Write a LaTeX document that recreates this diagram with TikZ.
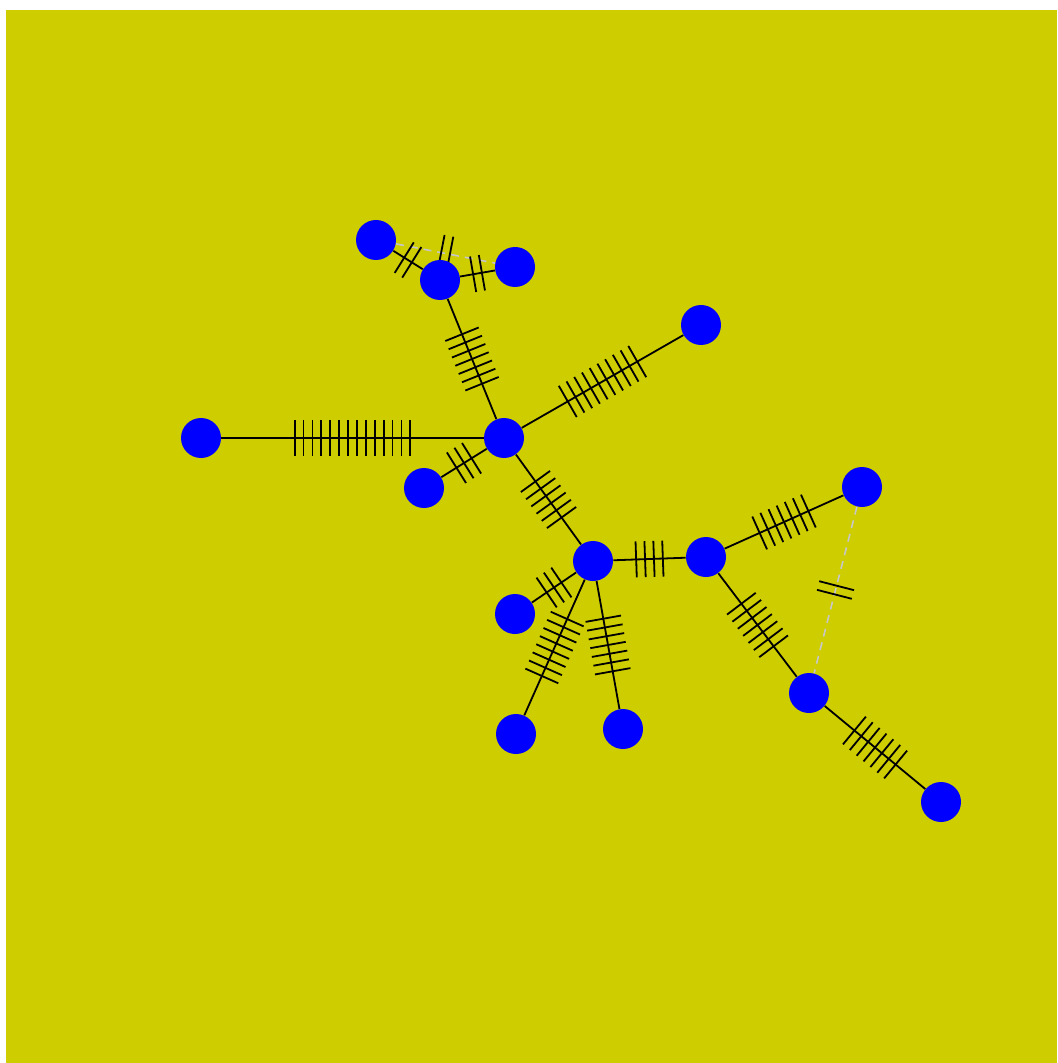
\documentclass[tikz,border=0pt]{standalone}
\usetikzlibrary{calc}
\definecolor{bgyellow}{RGB}{205,205,0}
\definecolor{dashgray}{RGB}{200,200,200}
\pgfdeclarelayer{bg}
\pgfdeclarelayer{edges}
\pgfsetlayers{bg,edges,main}
\tikzset{
  vtx/.style={circle,fill=blue,draw=none,minimum size=20pt,inner sep=0pt},
  edge/.style={draw=black,line width=0.9pt},
  dedge/.style={draw=dashgray,line width=0.8pt,dash pattern=on 4pt off 3pt},
  tick/.style={draw=black,line width=0.9pt}
}
\newcommand{\tickmarks}[3]{%
  \coordinate (tmid) at ($(#1)!0.5!(#2)$);
  \foreach \i in {1,...,#3} {
    \pgfmathsetmacro{\off}{(\i-(#3+1)/2)*4.45}
    \coordinate (tc) at ($(tmid)!\off pt!(#2)$);
    \draw[tick] ($(tc)!9pt!90:(#2)$) -- ($(tc)!9pt!-90:(#2)$);
  }%
}
\newcommand{\solidedge}[3]{\draw[edge] (#1) -- (#2);\tickmarks{#1}{#2}{#3}}
\newcommand{\dashedge}[3]{\draw[dedge] (#1) -- (#2);\tickmarks{#1}{#2}{#3}}
\begin{document}
\begin{tikzpicture}[x=0.5pt,y=-0.5pt]
\useasboundingbox (0,0) rectangle (1057,1063);
\begin{pgfonlayer}{bg}
\fill[white] (0,0) rectangle (1057,1063);
\fill[bgyellow] (6,10) rectangle (1057,1063);
\end{pgfonlayer}
\node[vtx] (n1) at (376,240) {};
\node[vtx] (n2) at (440,280) {};
\node[vtx] (n3) at (515,267) {};
\node[vtx] (n4) at (701,325) {};
\node[vtx] (n5) at (201,438) {};
\node[vtx] (n6) at (504,438) {};
\node[vtx] (n7) at (424,488) {};
\node[vtx] (n8) at (862,487) {};
\node[vtx] (n9) at (593,561) {};
\node[vtx] (n10) at (706,557) {};
\node[vtx] (n11) at (515,614) {};
\node[vtx] (n12) at (516,734) {};
\node[vtx] (n13) at (623,729) {};
\node[vtx] (n14) at (809,693) {};
\node[vtx] (n15) at (941,802) {};
\begin{pgfonlayer}{edges}
\dashedge{n1}{n3}{2}
\dashedge{n8}{n14}{2}
\solidedge{n1}{n2}{2}
\solidedge{n2}{n3}{2}
\solidedge{n2}{n6}{7}
\solidedge{n6}{n4}{10}
\solidedge{n5}{n6}{14}
\solidedge{n6}{n7}{3}
\solidedge{n6}{n9}{6}
\solidedge{n9}{n10}{4}
\solidedge{n9}{n11}{3}
\solidedge{n9}{n12}{8}
\solidedge{n9}{n13}{7}
\solidedge{n10}{n8}{7}
\solidedge{n10}{n14}{7}
\solidedge{n14}{n15}{7}
\end{pgfonlayer}
\end{tikzpicture}
\end{document}
